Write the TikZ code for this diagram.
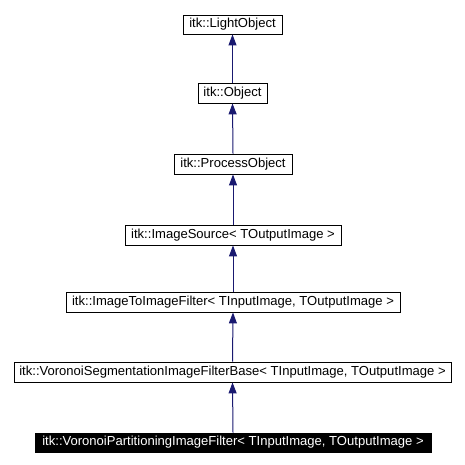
\documentclass[tikz,border=0pt]{standalone}
\usepackage{fontspec}
\setmainfont{Liberation Sans}
\usetikzlibrary{arrows.meta}
\definecolor{edgeblue}{HTML}{191970}
\begin{document}
\begin{tikzpicture}[x=1bp,y=1bp,
  cls/.style={draw=black, line width=0.9bp, fill=white, inner sep=0pt, minimum height=20bp, font=\fontsize{13.1}{15}\selectfont, text=black, anchor=center},
  cur/.style={cls, fill=black, text=white},
  edge/.style={draw=edgeblue, line width=1bp, -{Triangle[length=11bp,width=8bp]}}]
\useasboundingbox (0,0) rectangle (465,465);
\node[cls, minimum width=99bp, minimum height=19bp] (lo) at (232.5,440.5) {itk::LightObject};
\node[cls, minimum width=69bp] (obj) at (232.5,372) {itk::Object};
\node[cls, minimum width=118bp] (po) at (233,301) {itk::ProcessObject};
\node[cls, minimum width=216bp] (is) at (233,230) {itk::ImageSource< TOutputImage >};
\node[cls, minimum width=334bp] (iti) at (233,163) {itk::ImageToImageFilter< TInputImage, TOutputImage >};
\node[cls, minimum width=437bp] (vs) at (232.5,93) {itk::VoronoiSegmentationImageFilterBase< TInputImage, TOutputImage >};
\node[cur, minimum width=396bp, minimum height=19bp] (vp) at (233,22.5) {itk::VoronoiPartitioningImageFilter< TInputImage, TOutputImage >};
\draw[edge] (obj.north -| lo.south) -- (lo.south);
\draw[edge] (po.north) -- (obj.south);
\draw[edge] (is.north) -- (po.south);
\draw[edge] (iti.north) -- (is.south);
\draw[edge] (vs.north) -- (iti.south);
\draw[edge] (vp.north) -- (vs.south);
\end{tikzpicture}
\end{document}
